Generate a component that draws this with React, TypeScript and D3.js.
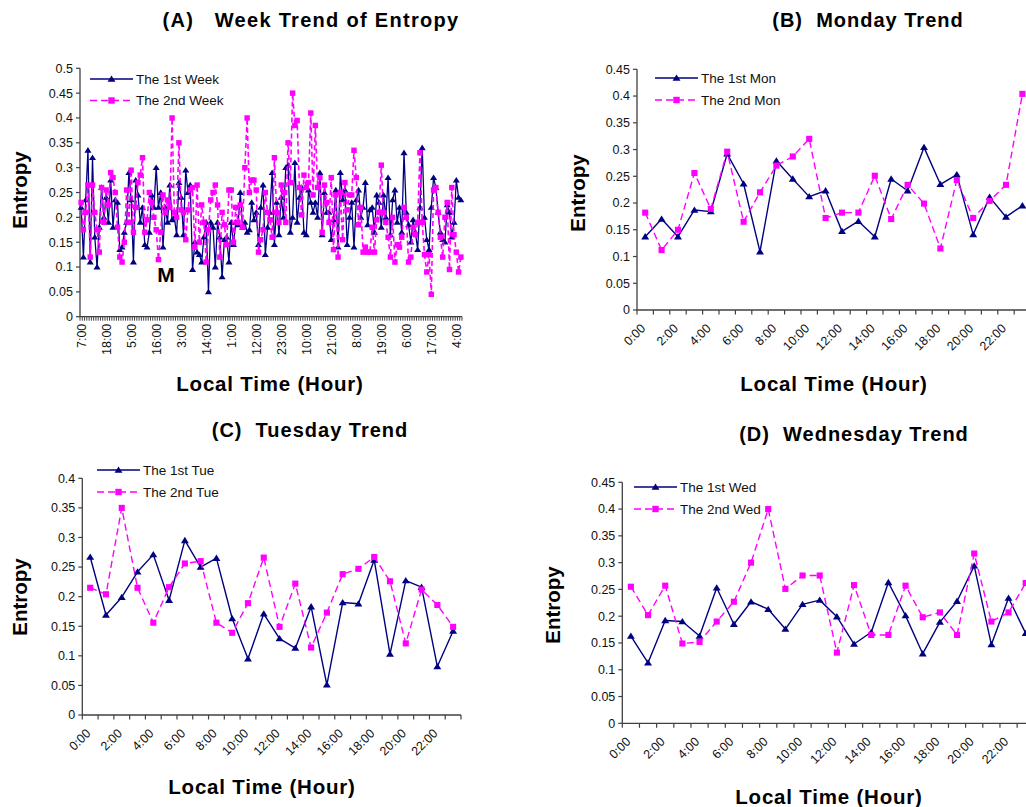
import React from "react";
import * as d3 from "d3";

// ---------------- DATA ----------------
const week1: number[] = [
  0.22, 0.12, 0.235, 0.335, 0.11, 0.32, 0.16, 0.10, 0.18, 0.26,
  0.20, 0.24, 0.19, 0.275, 0.18, 0.235, 0.23, 0.135, 0.14, 0.17,
  0.19, 0.29, 0.235, 0.11, 0.275, 0.245, 0.19, 0.22, 0.145, 0.14,
  0.17, 0.245, 0.22, 0.30, 0.22, 0.25, 0.14, 0.22, 0.19, 0.265,
  0.195, 0.20, 0.165, 0.27, 0.24, 0.165, 0.295, 0.25, 0.265, 0.095,
  0.15, 0.13, 0.125, 0.11, 0.16, 0.19, 0.05, 0.19, 0.18, 0.10,
  0.19, 0.16, 0.08, 0.155, 0.16, 0.11, 0.19, 0.145, 0.19, 0.185,
  0.25, 0.18, 0.19, 0.17, 0.175, 0.23, 0.195, 0.21, 0.145, 0.22,
  0.265, 0.125, 0.18, 0.21, 0.29, 0.145, 0.23, 0.165, 0.24, 0.20,
  0.30, 0.305, 0.17, 0.20, 0.31, 0.19, 0.24, 0.26, 0.17, 0.165,
  0.255, 0.23, 0.21, 0.23, 0.20, 0.29, 0.165, 0.25, 0.21, 0.21,
  0.155, 0.195, 0.255, 0.14, 0.29, 0.235, 0.255, 0.145, 0.20, 0.23,
  0.14, 0.235, 0.255, 0.20, 0.22, 0.27, 0.185, 0.215, 0.22, 0.17,
  0.245, 0.23, 0.18, 0.245, 0.20, 0.28, 0.165, 0.235, 0.255, 0.19,
  0.22, 0.17, 0.33, 0.21, 0.185, 0.15, 0.195, 0.17, 0.135, 0.22,
  0.34, 0.20, 0.155, 0.135, 0.22, 0.28, 0.26, 0.21, 0.17, 0.155,
  0.15, 0.225, 0.21, 0.16, 0.19, 0.275, 0.24, 0.235,
];

const week2: number[] = [
  0.23, 0.175, 0.21, 0.265, 0.12, 0.265, 0.21, 0.175, 0.13, 0.26,
  0.19, 0.255, 0.225, 0.29, 0.28, 0.25, 0.18, 0.12, 0.11, 0.15,
  0.255, 0.19, 0.295, 0.17, 0.22, 0.27, 0.285, 0.32, 0.17, 0.195,
  0.25, 0.23, 0.20, 0.175, 0.115, 0.17, 0.245, 0.21, 0.235, 0.22,
  0.40, 0.21, 0.20, 0.35, 0.215, 0.21, 0.155, 0.215, 0.255, 0.26,
  0.14, 0.265, 0.15, 0.225, 0.19, 0.11, 0.175, 0.235, 0.25, 0.265,
  0.225, 0.12, 0.21, 0.185, 0.145, 0.255, 0.255, 0.15, 0.22, 0.19,
  0.225, 0.18, 0.30, 0.40, 0.25, 0.275, 0.275, 0.255, 0.13, 0.155,
  0.175, 0.25, 0.21, 0.195, 0.16, 0.32, 0.21, 0.19, 0.265, 0.25,
  0.19, 0.35, 0.27, 0.45, 0.385, 0.395, 0.26, 0.205, 0.285, 0.26,
  0.27, 0.41, 0.245, 0.385, 0.26, 0.28, 0.17, 0.265, 0.23, 0.19,
  0.28, 0.135, 0.245, 0.12, 0.25, 0.155, 0.27, 0.215, 0.245, 0.245,
  0.335, 0.28, 0.185, 0.22, 0.13, 0.14, 0.13, 0.13, 0.18, 0.13,
  0.195, 0.21, 0.305, 0.21, 0.19, 0.16, 0.12, 0.20, 0.11, 0.145,
  0.14, 0.16, 0.22, 0.20, 0.11, 0.12, 0.18, 0.165, 0.19, 0.33,
  0.19, 0.125, 0.09, 0.125, 0.045, 0.255, 0.26, 0.21, 0.16, 0.12,
  0.20, 0.23, 0.095, 0.26, 0.165, 0.13, 0.09, 0.12,
];

const mon1 = [0.137, 0.170, 0.137, 0.187, 0.184, 0.292, 0.236, 0.109, 0.279, 0.245, 0.212, 0.223,
  0.147, 0.166, 0.137, 0.245, 0.223, 0.304, 0.235, 0.253, 0.141, 0.211, 0.174, 0.195];
const mon2 = [0.182, 0.112, 0.150, 0.256, 0.189, 0.296, 0.165, 0.220, 0.270, 0.287, 0.320, 0.172,
  0.182, 0.182, 0.251, 0.170, 0.234, 0.199, 0.115, 0.243, 0.172, 0.204, 0.234, 0.404];

const tue1 = [0.267, 0.169, 0.199, 0.242, 0.271, 0.194, 0.295, 0.250, 0.265, 0.163, 0.095, 0.171,
  0.129, 0.113, 0.183, 0.051, 0.190, 0.188, 0.262, 0.103, 0.227, 0.216, 0.082, 0.142];
const tue2 = [0.215, 0.204, 0.350, 0.215, 0.156, 0.216, 0.256, 0.260, 0.156, 0.139, 0.189, 0.266,
  0.149, 0.222, 0.114, 0.173, 0.238, 0.247, 0.267, 0.226, 0.121, 0.212, 0.186, 0.149];

const wed1 = [0.163, 0.113, 0.192, 0.190, 0.163, 0.253, 0.185, 0.227, 0.213, 0.176, 0.222, 0.230,
  0.199, 0.148, 0.170, 0.263, 0.201, 0.130, 0.189, 0.228, 0.294, 0.147, 0.234, 0.168];
const wed2 = [0.255, 0.202, 0.257, 0.149, 0.152, 0.190, 0.227, 0.300, 0.400, 0.251, 0.276, 0.276,
  0.132, 0.258, 0.165, 0.165, 0.257, 0.198, 0.207, 0.165, 0.317, 0.190, 0.207, 0.262];

const weekTickLabels = ["7:00", "18:00", "5:00", "16:00", "3:00", "14:00", "1:00", "12:00",
  "23:00", "10:00", "21:00", "8:00", "19:00", "6:00", "17:00", "4:00"];
const weekLabelStep = 11;
const dayTickLabels = ["0:00", "2:00", "4:00", "6:00", "8:00", "10:00", "12:00", "14:00",
  "16:00", "18:00", "20:00", "22:00"];
const dayLabelStep = 2;

const yTicks50 = [0, 0.05, 0.1, 0.15, 0.2, 0.25, 0.3, 0.35, 0.4, 0.45, 0.5];
const yTicks45 = [0, 0.05, 0.1, 0.15, 0.2, 0.25, 0.3, 0.35, 0.4, 0.45];
const yTicks40 = [0, 0.05, 0.1, 0.15, 0.2, 0.25, 0.3, 0.35, 0.4];

const NAVY = "#000080";
const MAGENTA = "#FF00FF";
const AXIS = "#404040";
const FONT = "Arial, 'Liberation Sans', Helvetica, sans-serif";

type PanelProps = {
  x0: number; x1: number; yBottom: number; yTop: number; yMax: number; yTicks: number[];
  s1: number[]; s2: number[]; names: [string, string];
  labels: string[]; labelStep: number; dense: boolean;
  legend: { x: number; y: number; gap: number };
  title: { text: string; x: number; y: number; ls: number };
  ylab: { x: number; y: number }; xlab: { x: number; y: number };
  mk: number;
};

const triPath = (s: number) => `M0,${-s}L${s * 1.1},${s * 0.75}L${-s * 1.1},${s * 0.75}Z`;

function Panel(p: PanelProps) {
  const n = p.s1.length;
  const x = d3.scaleBand<number>().domain(d3.range(n)).range([p.x0, p.x1]).paddingInner(0).paddingOuter(0);
  const bw = x.bandwidth();
  const y = d3.scaleLinear().domain([0, p.yMax]).range([p.yBottom, p.yTop]);
  const cx = (i: number) => (x(i) as number) + bw / 2;
  const line = d3.line<number>().x((_, i) => cx(i)).y((d) => y(d));
  const bounds = d3.range(n + 1).map((i) => (i < n ? (x(i) as number) : (x(n - 1) as number) + bw));
  const sq = p.mk * 0.85;
  const lx = p.legend.x;
  return (
    <g>
      {/* Axes */}
      <line x1={p.x0} x2={p.x0} y1={p.yBottom} y2={y(p.yMax)} stroke={AXIS} strokeWidth={1.3} />
      <line x1={p.x0} x2={p.x1} y1={p.yBottom} y2={p.yBottom} stroke={AXIS} strokeWidth={1.3} />
      {p.yTicks.map((t) => (
        <g key={"yt" + t}>
          <line x1={p.x0 - 4} x2={p.x0} y1={y(t)} y2={y(t)} stroke={AXIS} strokeWidth={1.2} />
          <text x={p.x0 - 7} y={y(t)} dy="0.35em" textAnchor="end" fontSize={12.5} fontFamily={FONT} fill="#111">{String(t)}</text>
        </g>
      ))}
      {bounds.map((bx, i) => (
        <line key={"xt" + i} x1={bx} x2={bx} y1={p.yBottom} y2={p.yBottom + (p.dense ? 4 : 4.5)} stroke={AXIS} strokeWidth={p.dense ? 1 : 1.2} />
      ))}
      {p.labels.map((lab, k) => {
        const idx = k * p.labelStep;
        if (p.dense) {
          return (
            <text key={"xl" + k} transform={`translate(${cx(idx)},${p.yBottom + 7}) rotate(-90)`} dy="0.35em" textAnchor="end" fontSize={12.5} fontFamily={FONT} fill="#111">{lab}</text>
          );
        }
        return (
          <text key={"xl" + k} transform={`translate(${bounds[idx] + 6},${p.yBottom + 16}) rotate(-45)`} dy="0.35em" textAnchor="end" fontSize={12.5} fontFamily={FONT} fill="#111">{lab}</text>
        );
      })}
      {/* Series 1 */}
      <path d={line(p.s1) || ""} fill="none" stroke={NAVY} strokeWidth={p.dense ? 1.3 : 1.4} strokeLinejoin="round" />
      {p.s1.map((v, i) => (
        <path key={"m1" + i} d={triPath(p.mk)} transform={`translate(${cx(i)},${y(v)})`} fill={NAVY} />
      ))}
      {/* Series 2 */}
      <path d={line(p.s2) || ""} fill="none" stroke={MAGENTA} strokeWidth={p.dense ? 1.6 : 1.4} strokeDasharray={p.dense ? "5,3" : "7,4"} />
      {p.s2.map((v, i) => (
        <rect key={"m2" + i} x={cx(i) - sq} y={y(v) - sq} width={sq * 2} height={sq * 2} fill={MAGENTA} />
      ))}
      {/* Legend */}
      <line x1={lx} x2={lx + 43} y1={p.legend.y} y2={p.legend.y} stroke={NAVY} strokeWidth={1.4} />
      <path d={triPath(3.6)} transform={`translate(${lx + 21.5},${p.legend.y})`} fill={NAVY} />
      <text x={lx + 46} y={p.legend.y} dy="0.35em" fontSize={13.5} fontFamily={FONT} fill="#111">{p.names[0]}</text>
      <line x1={lx} x2={lx + 43} y1={p.legend.y + p.legend.gap} y2={p.legend.y + p.legend.gap} stroke={MAGENTA} strokeWidth={1.4} strokeDasharray="7,4" />
      <rect x={lx + 21.5 - 3.2} y={p.legend.y + p.legend.gap - 3.2} width={6.4} height={6.4} fill={MAGENTA} />
      <text x={lx + 46} y={p.legend.y + p.legend.gap} dy="0.35em" fontSize={13.5} fontFamily={FONT} fill="#111">{p.names[1]}</text>
      {/* Titles */}
      <text x={p.title.x} y={p.title.y} textAnchor="middle" fontSize={20} fontWeight="bold" fontFamily={FONT} letterSpacing={p.title.ls} style={{ whiteSpace: "pre" }} fill="#000">{p.title.text}</text>
      <text transform={`translate(${p.ylab.x},${p.ylab.y}) rotate(-90)`} dy="0.35em" textAnchor="middle" fontSize={20.5} fontWeight="bold" fontFamily={FONT} fill="#000">Entropy</text>
      <text x={p.xlab.x} y={p.xlab.y} textAnchor="middle" fontSize={20.5} fontWeight="bold" fontFamily={FONT} letterSpacing={0.8} fill="#000">Local Time (Hour)</text>
    </g>
  );
}

export default function App() {
  return (
    <svg width={1026} height={807} style={{ position: "absolute", left: 0, top: 0, background: "#fff" }} xmlns="http://www.w3.org/2000/svg">
      <rect x={0} y={0} width={1026} height={807} fill="#fff" />
      <Panel
        x0={80} x1={462} yBottom={316.7} yTop={68.3} yMax={0.5} yTicks={yTicks50}
        s1={week1} s2={week2} names={["The 1st Week", "The 2nd Week"]}
        labels={weekTickLabels} labelStep={weekLabelStep} dense={true}
        legend={{ x: 90, y: 79, gap: 21.5 }}
        title={{ text: "(A)   Week Trend of Entropy", x: 311, y: 27, ls: 1.3 }}
        ylab={{ x: 20, y: 190 }} xlab={{ x: 270, y: 391 }} mk={3.2}
      />
      <text x={166} y={282} textAnchor="middle" fontSize={21} fontWeight="bold" fontFamily={FONT} fill="#000">M</text>
      <Panel
        x0={637} x1={1030.6} yBottom={310} yTop={69.3} yMax={0.45} yTicks={yTicks45}
        s1={mon1} s2={mon2} names={["The 1st Mon", "The 2nd Mon"]}
        labels={dayTickLabels} labelStep={dayLabelStep} dense={false}
        legend={{ x: 655, y: 78, gap: 22 }}
        title={{ text: "(B)  Monday Trend", x: 868, y: 27, ls: 1 }}
        ylab={{ x: 578, y: 193 }} xlab={{ x: 834, y: 391 }} mk={3.6}
      />
      <Panel
        x0={82.3} x1={461} yBottom={715} yTop={478.3} yMax={0.4} yTicks={yTicks40}
        s1={tue1} s2={tue2} names={["The 1st Tue", "The 2nd Tue"]}
        labels={dayTickLabels} labelStep={dayLabelStep} dense={false}
        legend={{ x: 97, y: 470, gap: 22 }}
        title={{ text: "(C)  Tuesday Trend", x: 310, y: 437, ls: 1 }}
        ylab={{ x: 20, y: 597 }} xlab={{ x: 262, y: 794 }} mk={3.6}
      />
      <Panel
        x0={622.3} x1={1034.3} yBottom={723.3} yTop={482.3} yMax={0.45} yTicks={yTicks45}
        s1={wed1} s2={wed2} names={["The 1st Wed", "The 2nd Wed"]}
        labels={dayTickLabels} labelStep={dayLabelStep} dense={false}
        legend={{ x: 634, y: 487, gap: 22 }}
        title={{ text: "(D)  Wednesday Trend", x: 854, y: 441, ls: 1 }}
        ylab={{ x: 553, y: 605 }} xlab={{ x: 829, y: 804 }} mk={3.6}
      />
    </svg>
  );
}
